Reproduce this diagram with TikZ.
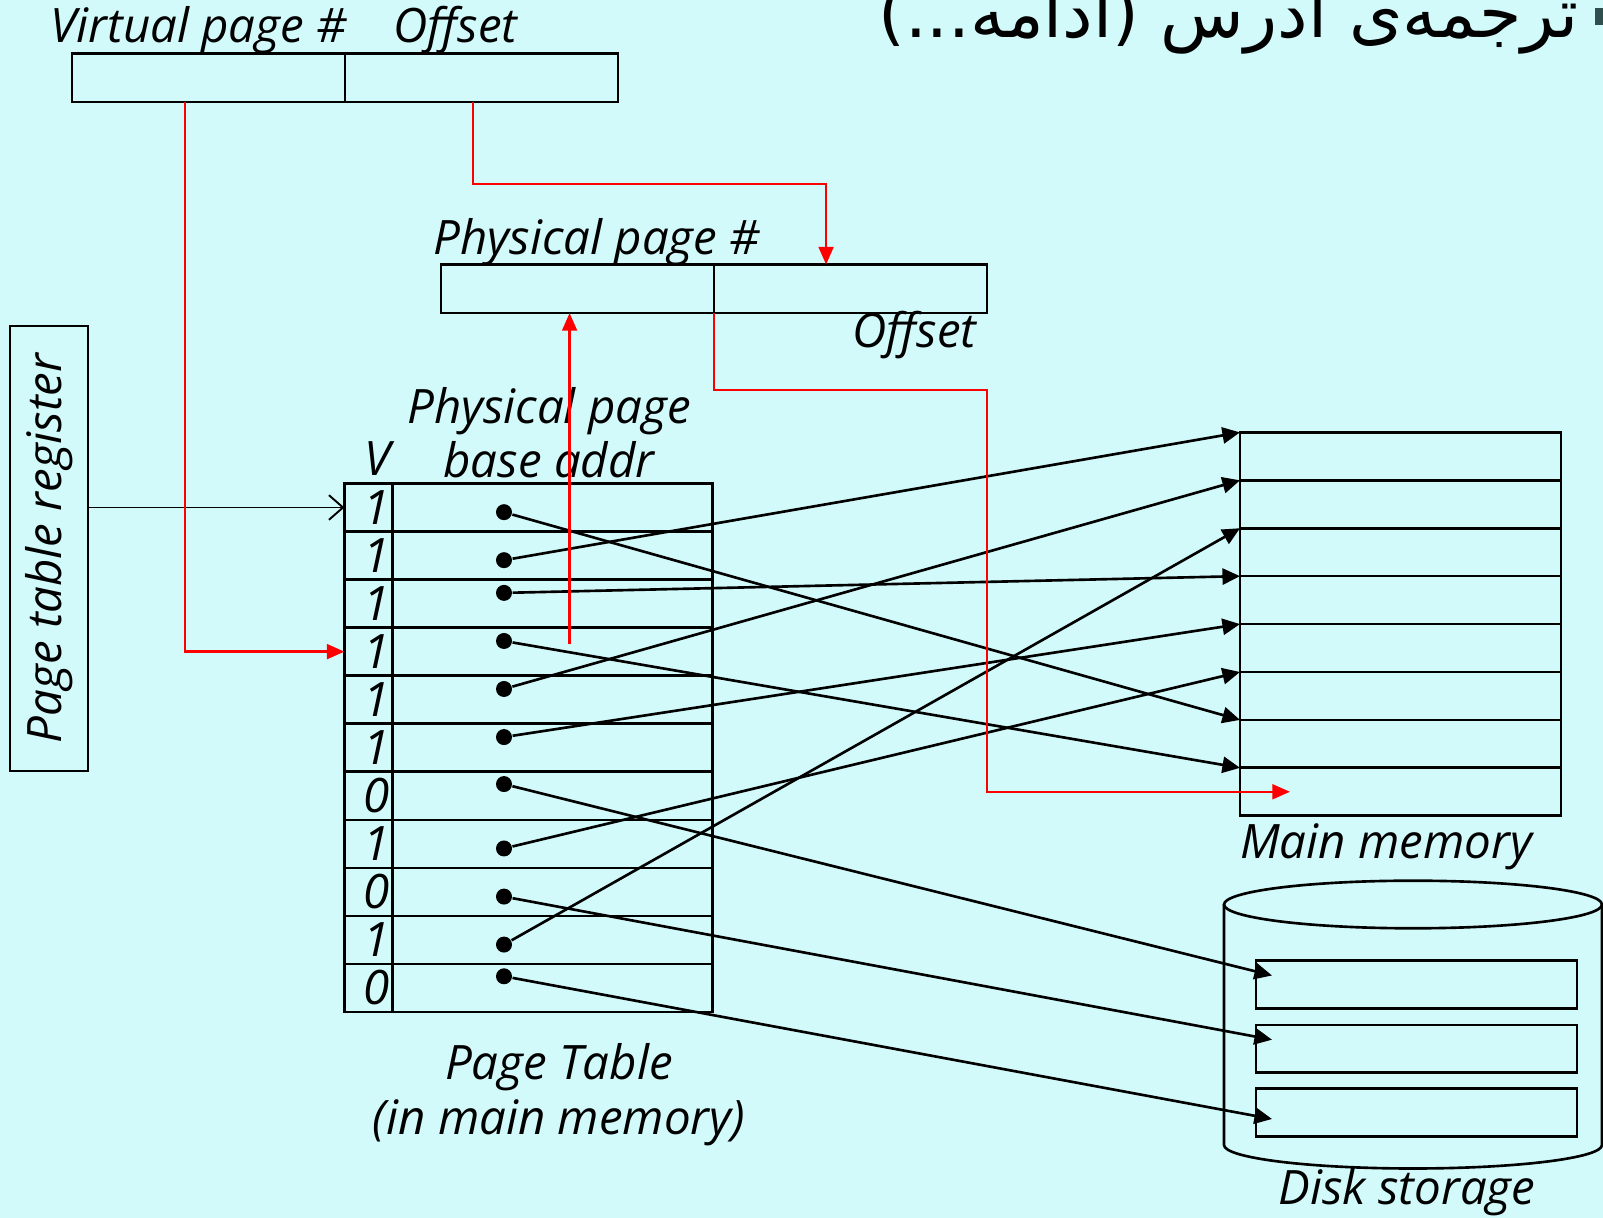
\documentclass[tikz,border=0pt]{standalone}
\usepackage{fontspec}
\setmainfont{Open Sans}
\newfontfamily\arabicfont[Script=Arabic]{DejaVu Sans}
\TeXXeTstate=1
\usepackage{tikz}
\usetikzlibrary{arrows.meta,positioning,calc}
\usepackage{xcolor}
\definecolor{paper}{HTML}{D3FAFB}
\definecolor{ink}{HTML}{000000}
\definecolor{xred}{HTML}{FF0000}
\definecolor{slate}{HTML}{2F4F4F}
\tikzset{
  lbl/.style={font=\itshape\fontsize{13.5}{15.5}\selectfont,inner sep=0pt},
  title/.style={font=\arabicfont\fontsize{19.5}{24}\selectfont,inner sep=0pt},
  bulletsq/.style={fill=slate,minimum size=1.7mm,inner sep=0pt},
  field/.style={draw=ink,line width=0.75pt,outer sep=0pt,minimum width=27.3mm,minimum height=4.85mm,inner sep=0pt},
  reg/.style={draw=ink,line width=0.7pt,outer sep=0pt,minimum width=44.5mm,minimum height=7.77mm,inner sep=0pt,font=\itshape\fontsize{13.5}{15.5}\selectfont},
  vcell/.style={draw=ink,line width=0.75pt,outer sep=0pt,minimum height=4.805mm,text width=4.3mm,inner xsep=0.25mm,inner ysep=0pt,align=right,font=\itshape\fontsize{13.5}{15.5}\selectfont},
  entry/.style={draw=ink,line width=0.75pt,outer sep=0pt,minimum width=32mm,minimum height=4.805mm,inner sep=0pt},
  memrow/.style={draw=ink,line width=0.75pt,outer sep=0pt,minimum width=32.1mm,minimum height=4.79mm,inner sep=0pt},
  blockrow/.style={memrow,minimum height=4.75mm},
  disk/.style={draw=ink,line width=0.75pt},
  pdot/.style={circle,fill=ink,minimum size=1.6mm,inner sep=0pt},
  ptr/.style={-{Triangle[length=5pt,width=4.6pt]},line width=0.75pt,draw=ink},
  xlate/.style={-{Triangle[length=5pt,width=4.2pt]},line width=0.7pt,draw=xred},
  regptr/.style={-{Straight Barb[length=4pt,width=7pt]},line width=0.55pt,draw=ink}
}
\begin{document}
\begin{tikzpicture}[x=0.1mm,y=-0.1mm]
\fill[paper] (0,0) rectangle (1603,1218);
\useasboundingbox (0,0) rectangle (1603,1218);

\node[title,anchor=base east] (title) at (1579,38) {\beginR ترجمه‌ی آدرس (ادامه...)\endR};
\node[bulletsq] (bullet) at (1603.5,17) {};

% virtual and physical address
\node[field] (vpn) at (208.5,77.7) {};
\node[field,anchor=west] (off) at (vpn.east) {};
\node[field] (ppn) at (577.6,288.8) {};
\node[field,anchor=west] (poff) at (ppn.east) {};
\node[lbl,anchor=base west] (vpnlbl) at (50,43) {Virtual page \#};
\node[lbl,anchor=base west] (offlbl) at (393,43) {Offset};
\node[lbl,anchor=base west] (ppnlbl) at (433,255) {Physical page \#};
\node[lbl,anchor=base east] (pofflbl) at (977,348) {Offset};

\node[reg,rotate=90] (reg) at (49,548.4) {Page table register};

% page table
\foreach \bit [count=\i] in {1,1,1,1,1,1,0,1,0,1,0}
  \node[vcell] (v\i) at (368.5,{507.5+48.05*(\i-1)}) {\bit};
\foreach \i in {1,...,11}
  \node[entry,anchor=west] (e\i) at (v\i.east) {};
\foreach \y [count=\i] in {512.2,560.2,592.9,641,689,737.1,784.1,848.5,896.6,944.6,976.3}
  \node[pdot] (d\i) at (504,\y) {};
\node[lbl,anchor=base] (vlbl) at (378,476) {V};
\node[lbl,align=center,anchor=south] (baselbl) at (549,479) {Physical page\\base addr};
\node[lbl,align=center,anchor=north] (ptlbl) at (559,1043) {Page Table\\(in main memory)};

% main memory
\foreach \i in {1,...,8}
  \node[memrow] (m\i) at (1400.5,{456.35+47.92*(\i-1)}) {};
\node[lbl,anchor=base] (memlbl) at (1386,859) {Main memory};

% disk
\draw[disk] (1413,904.5) ellipse[x radius=18.9mm,y radius=2.38mm];
\draw[disk] (1224,904.5) -- (1224,1145) arc[start angle=180,end angle=360,x radius=18.9mm,y radius=2.35mm] -- (1602,904.5);
\foreach \y [count=\i] in {984.5,1048.7,1112.5}
  \node[blockrow] (k\i) at (1416.5,\y) {};
\node[lbl,anchor=base] (disklbl) at (1407,1205) {Disk storage};

\draw[regptr] (reg.south |- v1.west) -- (v1.west);

\draw[ptr] (d1) -- (m7.north west);
\draw[ptr] (d2) -- (m1.north west);
\draw[ptr] (d3) -- (m4.north west);
\draw[ptr] (d4) -- (m8.north west);
\draw[ptr] (d5) -- (m2.north west);
\draw[ptr] (d6) -- (m5.north west);
\draw[ptr] (d7) -- ($(k1.west)+(16,-9)$);
\draw[ptr] (d8) -- (m6.north west);
\draw[ptr] (d9) -- ($(k2.west)+(16,-9)$);
\draw[ptr] (d10) -- (m3.north west);
\draw[ptr] (d11) -- ($(k3.west)+(16,6.5)$);

\draw[xlate] ([xshift=-2.35mm]vpn.south) |- (v4.west);
\draw[xlate] ([xshift=-0.87mm]off.south) -- ++(0,82) -| ([xshift=-2.45mm]poff.north);
\draw[xlate] ($(ppn.south |- e4.center)+(-8,-8)$) -- ($(ppn.south)+(-8,0)$);
\draw[xlate] (poff.south west) -- ++(0,77) -| (poff.east |- m8.west) -- ([xshift=5mm]m8.west);
\end{tikzpicture}
\end{document}
